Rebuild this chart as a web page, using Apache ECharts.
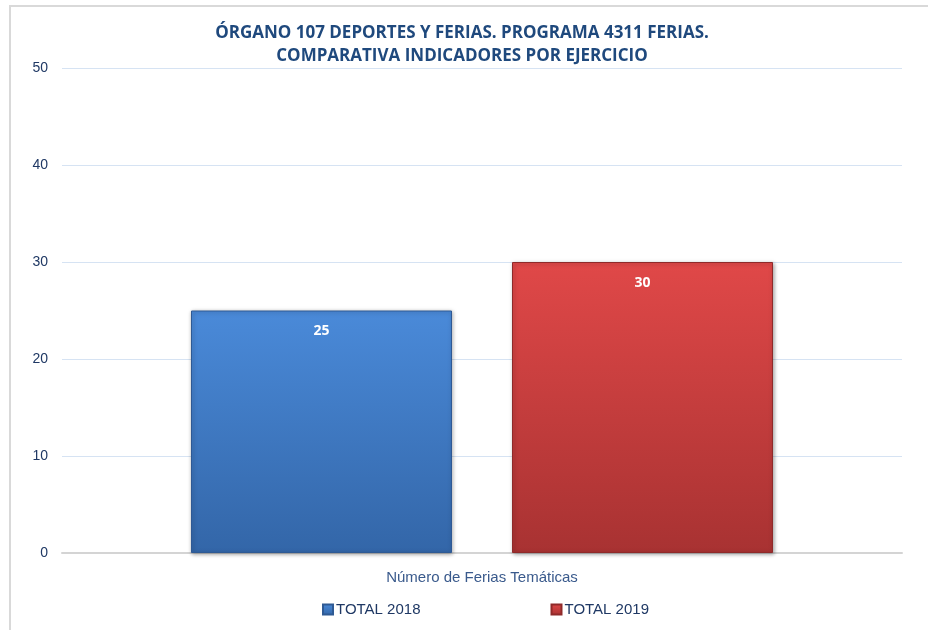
<!DOCTYPE html>
<html>
<head>
<meta charset="utf-8">
<script src="https://cdn.jsdelivr.net/npm/echarts@6/dist/echarts.min.js"></script>
<style>
html,body{margin:0;padding:0;background:#fff;}
#frame{position:absolute;left:9px;top:5px;width:930px;height:640px;border-top:2px solid #d9d9d9;border-left:2px solid #d9d9d9;box-sizing:border-box;}
#chart{position:absolute;left:0;top:0;width:928px;height:630px;}
</style>
</head>
<body>
<div id="frame"></div>
<div id="chart"></div>
<script>
var titleText = 'ÓRGANO 107 DEPORTES Y FERIAS. PROGRAMA 4311 FERIAS.\nCOMPARATIVA INDICADORES POR EJERCICIO';
var categories = ['Número de Ferias Temáticas'];
var seriesNames = ['TOTAL 2018', 'TOTAL 2019'];
var values2018 = [25];
var values2019 = [30];
var yTicks = {min: 0, max: 50, interval: 10};

var chart = echarts.init(document.getElementById('chart'), null, {renderer: 'canvas'});

function grad(top, bottom) {
  return new echarts.graphic.LinearGradient(0, 0, 0, 1, [
    {offset: 0, color: top},
    {offset: 1, color: bottom}
  ]);
}

var labelStyle = {
  show: true,
  position: 'insideTop',
  distance: 14,
  color: '#ffffff',
  fontWeight: 'bold',
  fontSize: 14,
  fontFamily: 'Open Sans, sans-serif'
};

chart.setOption({
  animation: false,
  backgroundColor: 'transparent',
  title: {
    text: titleText,
    left: 457,
    textAlign: 'center',
    top: 17,
    textStyle: {
      color: '#1f497d',
      fontSize: 17,
      fontWeight: 'bold',
      fontFamily: 'Open Sans, sans-serif',
      lineHeight: 23
    }
  },
  grid: {left: 62, right: 26, top: 68, bottom: 77, containLabel: false},
  legend: {
    top: 597,
    left: 317,
    itemGap: 130,
    itemWidth: 10,
    itemHeight: 10,
    icon: 'rect',
    textStyle: {color: '#1f3864', fontSize: 15, fontFamily: 'Liberation Sans, Arial, sans-serif', padding: [0, 0, 0, -2]},
    data: seriesNames
  },
  xAxis: {
    type: 'category',
    data: categories,
    axisLine: {show: true, lineStyle: {color: '#d4d4d4', width: 2}},
    axisTick: {show: false},
    axisLabel: {color: '#3a5a8c', fontSize: 15, margin: 17, fontFamily: 'Liberation Sans, Arial, sans-serif'}
  },
  yAxis: {
    type: 'value',
    min: yTicks.min,
    max: yTicks.max,
    interval: yTicks.interval,
    axisLine: {show: false},
    axisTick: {show: false},
    axisLabel: {color: '#1f3864', fontSize: 14, margin: 14, fontFamily: 'Liberation Sans, Arial, sans-serif'},
    splitLine: {lineStyle: {color: '#d6e3f3', width: 1}}
  },
  series: [
    {
      name: seriesNames[0],
      type: 'bar',
      data: values2018,
      barWidth: 261,
      barGap: '23%',
      itemStyle: {
        color: grad('#4a8ad9', '#3366a8'),
        borderColor: '#2f5a94',
        borderWidth: 1,
        shadowColor: 'rgba(0,0,0,0.35)',
        shadowBlur: 4,
        shadowOffsetX: 1,
        shadowOffsetY: 1
      },
      label: labelStyle
    },
    {
      name: seriesNames[1],
      type: 'bar',
      data: values2019,
      barWidth: 261,
      barGap: '23%',
      itemStyle: {
        color: grad('#e04848', '#a83232'),
        borderColor: '#8f2a2a',
        borderWidth: 1,
        shadowColor: 'rgba(0,0,0,0.35)',
        shadowBlur: 4,
        shadowOffsetX: 1,
        shadowOffsetY: 1
      },
      label: labelStyle
    }
  ]
});
</script>
</body>
</html>
